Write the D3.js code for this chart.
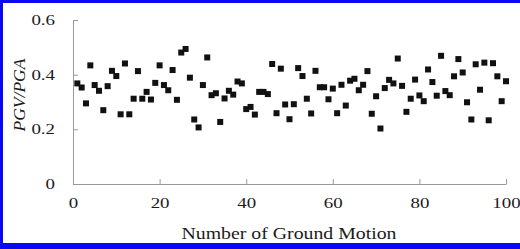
<!DOCTYPE html>
<html>
<head>
<meta charset="utf-8">
<script src="https://cdn.jsdelivr.net/npm/d3@7"></script>
<style>
    body { margin: 0; background: #fff; }
    svg { display: block; }
</style>
</head>
<body>
<svg id="chart"></svg>
<script>
// PGV/PGA ratio for each of the 100 ground motions
const ratios = [
    0.368, 0.353, 0.295, 0.434, 0.362, 0.341, 0.270, 0.358, 0.414, 0.395,
    0.255, 0.441, 0.255, 0.312, 0.413, 0.312, 0.337, 0.309, 0.370, 0.434,
    0.362, 0.343, 0.417, 0.308, 0.481, 0.494, 0.389, 0.236, 0.207, 0.362,
    0.463, 0.325, 0.332, 0.227, 0.313, 0.341, 0.327, 0.375, 0.368, 0.274,
    0.282, 0.254, 0.337, 0.337, 0.329, 0.439, 0.259, 0.422, 0.291, 0.237,
    0.292, 0.424, 0.395, 0.312, 0.258, 0.414, 0.354, 0.354, 0.310, 0.349,
    0.259, 0.363, 0.287, 0.378, 0.385, 0.343, 0.363, 0.413, 0.257, 0.321,
    0.203, 0.351, 0.381, 0.368, 0.459, 0.359, 0.264, 0.312, 0.382, 0.324,
    0.303, 0.419, 0.373, 0.323, 0.469, 0.340, 0.325, 0.394, 0.457, 0.408,
    0.299, 0.236, 0.438, 0.345, 0.444, 0.233, 0.442, 0.394, 0.303, 0.376
];
const motionNumbers = ratios.map((d, i) => i + 1);

const xTicks = [0, 20, 40, 60, 80, 100];
const yTicks = [0, 0.2, 0.4, 0.6];
const yTickLabels = ["0", "0.2", "0.4", "0.6"];

const width = 520, height = 249;
const margin = { top: 20, right: 14, bottom: 65, left: 73 };
const stretch = 1.35; // tick labels look horizontally stretched in the source

const svg = d3.select("#chart")
    .attr("width", width)
    .attr("height", height);

// blue frame on the left, top and bottom
svg.append("rect").attr("x", 0).attr("y", 0).attr("width", 3).attr("height", height).attr("fill", "#0808f4");
svg.append("rect").attr("x", 0).attr("y", 0).attr("width", width).attr("height", 3).attr("fill", "#0808f4");
svg.append("rect").attr("x", 0).attr("y", 243).attr("width", width).attr("height", 6).attr("fill", "#0808f4");

const x = d3.scaleLinear()
    .domain([0, 100])
    .range([margin.left, width - margin.right]);

const y = d3.scaleLinear()
    .domain([0, 0.6])
    .range([height - margin.bottom, margin.top]);

const xAxis = svg.append("g")
    .attr("transform", `translate(0, ${y(0)})`)
    .call(d3.axisBottom(x).tickValues(xTicks).tickSizeInner(-5).tickSizeOuter(0).tickPadding(0));

const yAxis = svg.append("g")
    .attr("transform", `translate(${x(0)}, 0)`)
    .call(d3.axisLeft(y).tickValues(yTicks).tickFormat((d, i) => yTickLabels[i])
        .tickSizeInner(-5).tickSizeOuter(0).tickPadding(0));

[xAxis, yAxis].forEach(g => {
    g.select(".domain").attr("stroke", "#999");
    g.selectAll(".tick line").attr("stroke", "#999");
    g.selectAll(".tick text")
        .attr("fill", "#1a1a1a")
        .style("font-family", "'Liberation Serif', 'Times New Roman', serif")
        .style("font-size", "14px");
});

xAxis.selectAll(".tick text")
    .attr("y", 24)
    .attr("dy", 0)
    .attr("transform", `scale(${stretch},1)`);

yAxis.selectAll(".tick text")
    .attr("x", -18 / stretch)
    .attr("dy", "0.33em")
    .attr("transform", `scale(${stretch},1)`);

// points
svg.append("g")
    .selectAll("rect")
    .data(ratios)
    .join("rect")
    .attr("x", (d, i) => x(motionNumbers[i]) - 3)
    .attr("y", d => y(d) - 3)
    .attr("width", 6)
    .attr("height", 6)
    .attr("fill", "#111");

// axis titles
svg.append("text")
    .attr("x", 181.5)
    .attr("y", 238.5)
    .attr("textLength", 215)
    .attr("lengthAdjust", "spacingAndGlyphs")
    .attr("fill", "#1a1a1a")
    .style("font-family", "'Liberation Serif', 'Times New Roman', serif")
    .style("font-size", "17px")
    .text("Number of Ground Motion");

svg.append("text")
    .attr("transform", "translate(25, 95) rotate(-90)")
    .attr("text-anchor", "middle")
    .attr("fill", "#1a1a1a")
    .style("font-family", "'Liberation Serif', 'Times New Roman', serif")
    .style("font-style", "italic")
    .style("font-size", "17.5px")
    .text("PGV/PGA");
</script>
</body>
</html>
